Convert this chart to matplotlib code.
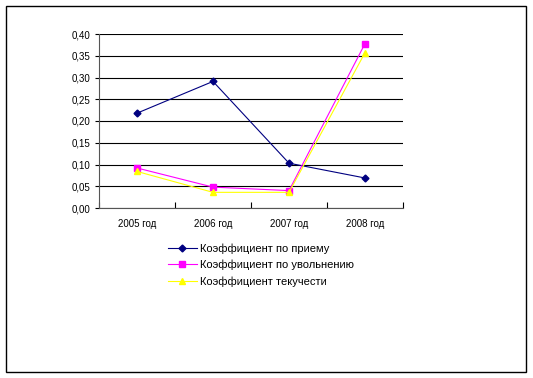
import matplotlib.pyplot as plt
from matplotlib.patches import Rectangle
from matplotlib.ticker import FuncFormatter
import numpy as np

years = ['2005 год', '2006 год', '2007 год', '2008 год']
priem = [0.218, 0.291, 0.103, 0.069]
uvoln = [0.092, 0.048, 0.040, 0.378]
tekuch = [0.084, 0.036, 0.036, 0.357]
yticks = [0.0, 0.05, 0.10, 0.15, 0.20, 0.25, 0.30, 0.35, 0.40]

plt.rcParams['font.family'] = ['Liberation Sans', 'DejaVu Sans']

fig = plt.figure(figsize=(5.33, 3.78), dpi=100)
fig.patches.append(Rectangle((6/533, 6/378), 520/533, 366/378, transform=fig.transFigure,
                             fill=False, edgecolor='black', linewidth=1.0))

ax = fig.add_axes([99/533, 1 - 208/378, 304/533, 174/378])
x = np.arange(len(years)) + 0.5

ax.plot(x, priem, color='#000080', marker='D', markersize=3.5, linewidth=0.8,
        label='Коэффициент по приему')
ax.plot(x, uvoln, color='#FF00FF', marker='s', markersize=4.5, linewidth=0.8,
        label='Коэффициент по увольнению')
ax.plot(x, tekuch, color='#FFFF00', marker='^', markersize=5, linewidth=0.8,
        label='Коэффициент текучести')

ax.set_xlim(0, 4)
ax.set_ylim(0, 0.40)
ax.set_yticks(yticks)
ax.yaxis.set_major_formatter(FuncFormatter(lambda v, p: f'{v:.2f}'.replace('.', ',')))
ax.set_xticks(range(5))
ax.set_xticklabels([])
ax.set_xticks(x, minor=True)
ax.set_xticklabels(years, minor=True)
ax.tick_params(axis='x', which='minor', length=0, pad=8, labelsize=7)
ax.tick_params(axis='x', which='major', length=4, direction='in', width=0.8)
ax.tick_params(axis='y', length=3, direction='out', labelsize=7, width=0.8)
ax.grid(axis='y', color='black', linewidth=0.8)
ax.set_axisbelow(True)
for s in ['top', 'right']:
    ax.spines[s].set_visible(False)
for s in ['left', 'bottom']:
    ax.spines[s].set_linewidth(0.8)
    ax.spines[s].set_color('#555555')

fig.legend(loc='upper left', bbox_to_anchor=(158/533, 1 - 233/378), frameon=False,
           fontsize=8, handlelength=2.6, labelspacing=0.55, handletextpad=0.3)

fig.savefig('out.png', dpi=100)
